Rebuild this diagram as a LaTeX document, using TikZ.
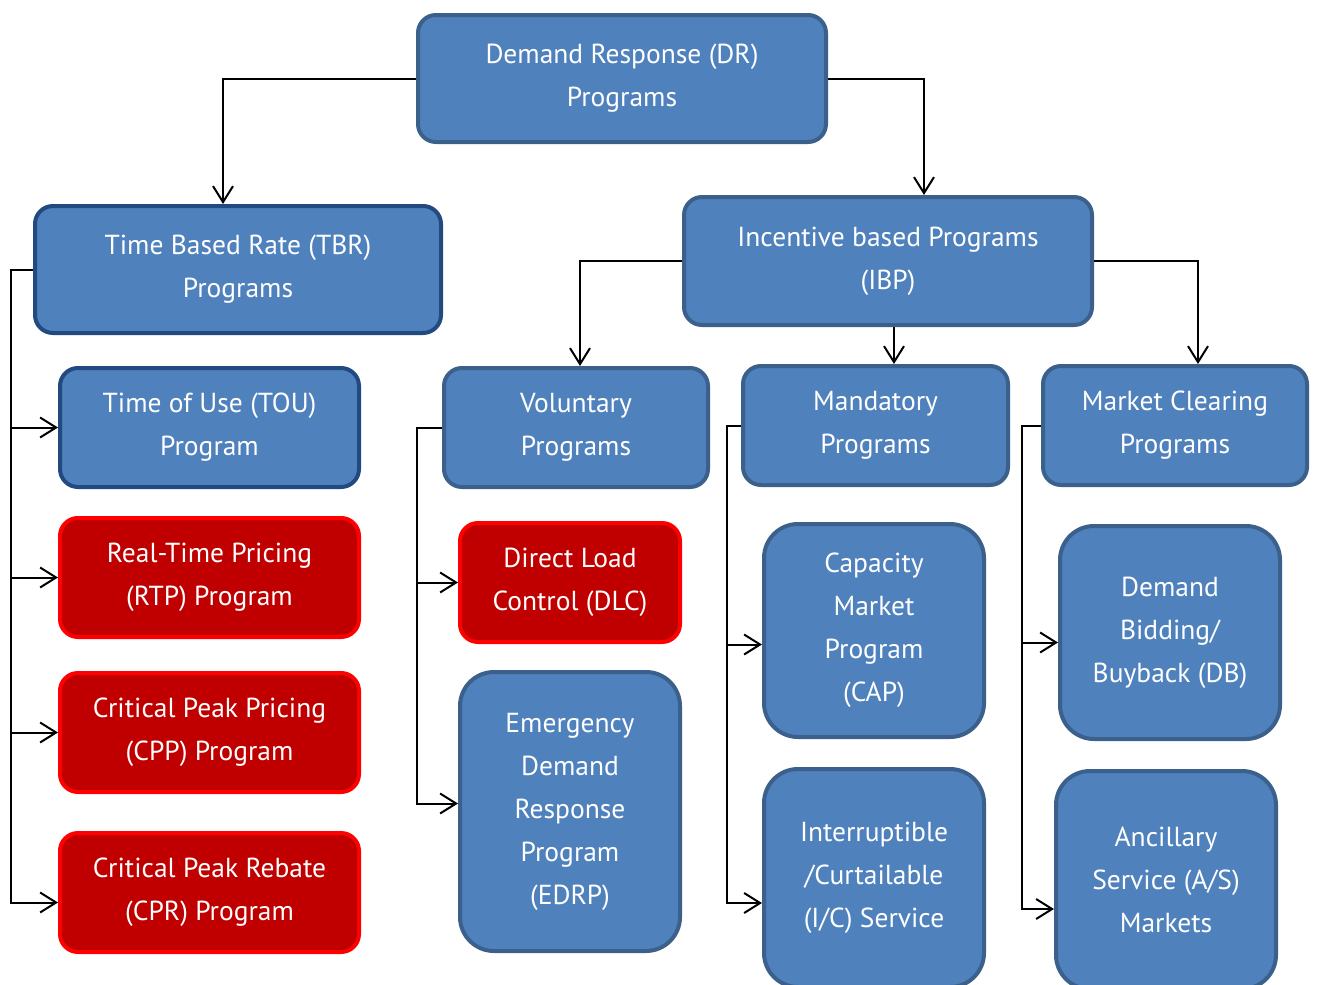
\documentclass[tikz,border=0pt]{standalone}
\usepackage{fontspec}
\setmainfont{PT Sans}
\usetikzlibrary{arrows.meta,calc}
\newlength{\du}
\setlength{\du}{1pt}
\definecolor{boxfill}{RGB}{79,129,189}
\definecolor{boxline}{RGB}{60,96,140}
\definecolor{boxdark}{RGB}{34,74,128}
\definecolor{redfill}{RGB}{192,0,0}
\definecolor{redline}{RGB}{255,0,0}
\tikzset{
  blubox/.style={draw=boxline, fill=boxfill, line width=4\du, rounded corners=18\du,
    text=white, align=center, inner sep=0pt,
    font=\fontsize{27.5}{43}\selectfont},
  tallbox/.style={blubox, rounded corners=34\du},
  darkbox/.style={blubox, draw=boxdark},
  redbox/.style={blubox, draw=redline, fill=redfill},
  link/.style={draw=black, line width=2\du, -{Straight Barb[length=16pt,width=20pt]}}
}
\begin{document}
\begin{tikzpicture}
\pgftransformxscale{1.000000}
\pgftransformyscale{-1.000000}
\useasboundingbox (0\du,0\du) rectangle (1317\du,985\du);
% top level
\node[blubox, minimum width=408\du, minimum height=127\du] (dr) at (622\du,78.5\du) {Demand Response (DR)\\Programs};
\node[darkbox, minimum width=406\du, minimum height=127\du] (tbr) at (238\du,269.5\du) {Time Based Rate (TBR)\\Programs};
\node[blubox, minimum width=408\du, minimum height=128\du] (ibp) at (888\du,261\du) {Incentive based Programs\\(IBP)};
% time based rate programs
\node[darkbox, minimum width=299\du, minimum height=119\du] (tou) at (209.5\du,427.5\du) {Time of Use (TOU)\\Program};
\node[redbox, minimum width=299\du, minimum height=119\du] (rtp) at (209.5\du,577.5\du) {Real-Time Pricing\\(RTP) Program};
\node[redbox, minimum width=299\du, minimum height=119\du] (cpp) at (209.5\du,732.5\du) {Critical Peak Pricing\\(CPP) Program};
\node[redbox, minimum width=299\du, minimum height=119\du] (cpr) at (209.5\du,892.5\du) {Critical Peak Rebate\\(CPR) Program};
% incentive based programs
\node[blubox, minimum width=264\du, minimum height=119\du] (vol) at (576\du,427.5\du) {Voluntary\\Programs};
\node[blubox, minimum width=265\du, minimum height=119\du] (man) at (875.5\du,425.5\du) {Mandatory\\Programs};
\node[blubox, minimum width=264\du, minimum height=119\du] (mkt) at (1175\du,425.5\du) {Market Clearing\\Programs};
\node[redbox, minimum width=220\du, minimum height=119\du] (dlc) at (570\du,582.5\du) {Direct Load\\Control (DLC)};
\node[tallbox, minimum width=220\du, minimum height=279\du] (edrp) at (570\du,811.5\du) {Emergency\\Demand\\Response\\Program\\(EDRP)};
\node[tallbox, minimum width=220\du, minimum height=213\du] (cap) at (874\du,630.5\du) {Capacity\\Market\\Program\\(CAP)};
\node[tallbox, minimum width=220\du, minimum height=218\du] (ic) at (874\du,878\du) {Interruptible\\/Curtailable\\(I/C) Service};
\node[tallbox, minimum width=220\du, minimum height=213\du] (db) at (1170\du,632.5\du) {Demand\\Bidding/\\Buyback (DB)};
\node[tallbox, minimum width=220\du, minimum height=218\du] (as) at (1166\du,880\du) {Ancillary\\Service (A/S)\\Markets};
% bus points
\coordinate (tbrbus) at (11\du,269.5\du);
\coordinate (volbus) at (417\du,427.5\du);
\coordinate (manbus) at (727\du,425.5\du);
\coordinate (mktbus) at (1022\du,425.5\du);
\coordinate (cprin) at ($(cpr.west)+(0\du,10\du)$);
\coordinate (edrpin) at ($(edrp.west)+(0\du,-8\du)$);
\coordinate (capin) at ($(cap.west)+(0\du,14\du)$);
\coordinate (icin) at ($(ic.west)+(0\du,25\du)$);
\coordinate (dbin) at ($(db.west)+(0\du,10\du)$);
\coordinate (asin) at ($(as.west)+(0\du,29\du)$);
% connectors
\draw[link] (dr.west) -| ([xshift=-15\du]tbr.north);
\draw[link] (dr.east) -| ([xshift=36\du]ibp.north);
\draw[link] (ibp.west) -| ([xshift=4\du]vol.north);
\draw[link] ([xshift=6\du]ibp.south) -- ([xshift=6\du]ibp.south |- man.north);
\draw[link] (ibp.east) -| ([xshift=23\du]mkt.north);
\draw[link] (tbr.west) -- (tbrbus) |- (cprin);
\draw[link] (tbrbus |- tou.west) -- (tou.west);
\draw[link] (tbrbus |- rtp.west) -- (rtp.west);
\draw[link] (tbrbus |- cpp.west) -- (cpp.west);
\draw[link] (vol.west) -- (volbus) |- (edrpin);
\draw[link] (volbus |- dlc.west) -- (dlc.west);
\draw[link] (man.west) -- (manbus) |- (icin);
\draw[link] (manbus |- capin) -- (capin);
\draw[link] (mkt.west) -- (mktbus) |- (asin);
\draw[link] (mktbus |- dbin) -- (dbin);
\end{tikzpicture}
\end{document}
